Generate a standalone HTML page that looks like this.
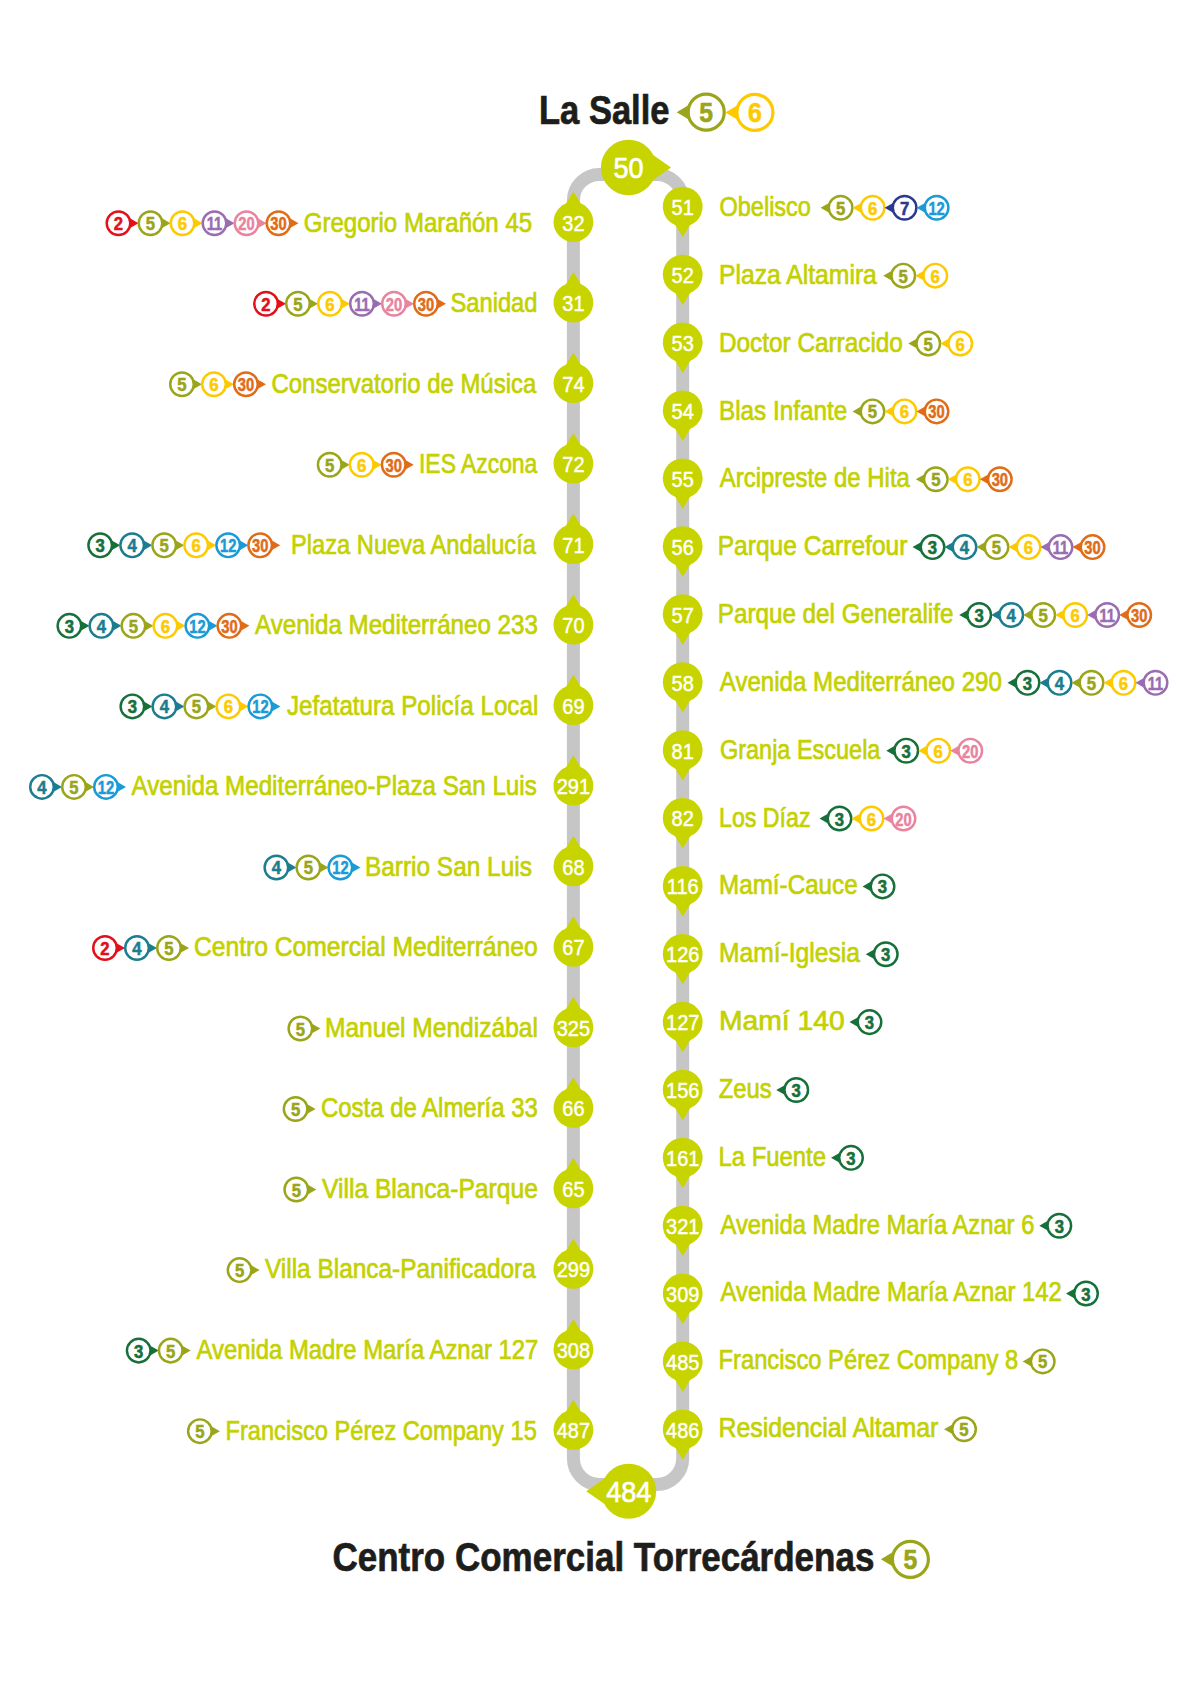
<!DOCTYPE html>
<html><head><meta charset="utf-8"><title>Línea 5</title>
<style>html,body{margin:0;padding:0;background:#fff;}svg{display:block;}
text{font-family:"Liberation Sans",sans-serif;}</style></head>
<body><svg width="1200" height="1700" viewBox="0 0 1200 1700">
<rect width="1200" height="1700" fill="#fff"/>
<path d="M573.40 200.40L573.40 1458.50A26.00 26.00 0 0 0 599.40 1484.50L656.70 1484.50A26.00 26.00 0 0 0 682.70 1458.50L682.70 200.40A26.00 26.00 0 0 0 656.70 174.40L599.40 174.40A26.00 26.00 0 0 0 573.40 200.40Z" fill="none" stroke="#c6c6c6" stroke-width="13.00"/>
<path d="M573.40 191.50L564.79 205.50L582.01 205.50Z" fill="#c8d400"/>
<circle cx="573.40" cy="222.00" r="19.90" fill="#c8d400"/>
<text transform="translate(573.40 230.50) scale(0.890 1)" text-anchor="middle" font-size="22.5" fill="#fff" stroke="#fff" stroke-width="0.45">32</text>
<path d="M138.50 223.20L126.50 216.36L126.50 230.04Z" fill="#e30f1b"/>
<circle cx="118.50" cy="223.20" r="11.78" fill="#fff" stroke="#e30f1b" stroke-width="2.45"/>
<text transform="translate(118.50 230.20) scale(0.880 1)" text-anchor="middle" font-size="19" font-weight="bold" fill="#e30f1b" stroke="#e30f1b" stroke-width="0.55">2</text>
<path d="M170.50 223.20L158.50 216.36L158.50 230.04Z" fill="#9aa519"/>
<circle cx="150.50" cy="223.20" r="11.78" fill="#fff" stroke="#9aa519" stroke-width="2.45"/>
<text transform="translate(150.50 230.20) scale(0.880 1)" text-anchor="middle" font-size="19" font-weight="bold" fill="#9aa519" stroke="#9aa519" stroke-width="0.55">5</text>
<path d="M202.50 223.20L190.50 216.36L190.50 230.04Z" fill="#fdca00"/>
<circle cx="182.50" cy="223.20" r="11.78" fill="#fff" stroke="#fdca00" stroke-width="2.45"/>
<text transform="translate(182.50 230.20) scale(0.880 1)" text-anchor="middle" font-size="19" font-weight="bold" fill="#fdca00" stroke="#fdca00" stroke-width="0.55">6</text>
<path d="M234.50 223.20L222.50 216.36L222.50 230.04Z" fill="#9a6cb1"/>
<circle cx="214.50" cy="223.20" r="11.78" fill="#fff" stroke="#9a6cb1" stroke-width="2.45"/>
<text transform="translate(214.50 230.20) scale(0.774 1)" text-anchor="middle" font-size="19" font-weight="bold" fill="#9a6cb1" stroke="#9a6cb1" stroke-width="0.55">11</text>
<path d="M266.50 223.20L254.50 216.36L254.50 230.04Z" fill="#e9839e"/>
<circle cx="246.50" cy="223.20" r="11.78" fill="#fff" stroke="#e9839e" stroke-width="2.45"/>
<text transform="translate(246.50 230.20) scale(0.774 1)" text-anchor="middle" font-size="19" font-weight="bold" fill="#e9839e" stroke="#e9839e" stroke-width="0.55">20</text>
<path d="M298.50 223.20L286.50 216.36L286.50 230.04Z" fill="#e06c18"/>
<circle cx="278.50" cy="223.20" r="11.78" fill="#fff" stroke="#e06c18" stroke-width="2.45"/>
<text transform="translate(278.50 230.20) scale(0.774 1)" text-anchor="middle" font-size="19" font-weight="bold" fill="#e06c18" stroke="#e06c18" stroke-width="0.55">30</text>
<text transform="translate(303.75 231.60) scale(0.8836 1)" font-size="27.2" fill="#c3d100" stroke="#c3d100" stroke-width="0.70">Gregorio Marañón 45</text>
<path d="M573.40 272.03L564.79 286.03L582.01 286.03Z" fill="#c8d400"/>
<circle cx="573.40" cy="302.53" r="19.90" fill="#c8d400"/>
<text transform="translate(573.40 311.03) scale(0.890 1)" text-anchor="middle" font-size="22.5" fill="#fff" stroke="#fff" stroke-width="0.45">31</text>
<path d="M286.00 303.73L274.00 296.89L274.00 310.57Z" fill="#e30f1b"/>
<circle cx="266.00" cy="303.73" r="11.78" fill="#fff" stroke="#e30f1b" stroke-width="2.45"/>
<text transform="translate(266.00 310.73) scale(0.880 1)" text-anchor="middle" font-size="19" font-weight="bold" fill="#e30f1b" stroke="#e30f1b" stroke-width="0.55">2</text>
<path d="M318.00 303.73L306.00 296.89L306.00 310.57Z" fill="#9aa519"/>
<circle cx="298.00" cy="303.73" r="11.78" fill="#fff" stroke="#9aa519" stroke-width="2.45"/>
<text transform="translate(298.00 310.73) scale(0.880 1)" text-anchor="middle" font-size="19" font-weight="bold" fill="#9aa519" stroke="#9aa519" stroke-width="0.55">5</text>
<path d="M350.00 303.73L338.00 296.89L338.00 310.57Z" fill="#fdca00"/>
<circle cx="330.00" cy="303.73" r="11.78" fill="#fff" stroke="#fdca00" stroke-width="2.45"/>
<text transform="translate(330.00 310.73) scale(0.880 1)" text-anchor="middle" font-size="19" font-weight="bold" fill="#fdca00" stroke="#fdca00" stroke-width="0.55">6</text>
<path d="M382.00 303.73L370.00 296.89L370.00 310.57Z" fill="#9a6cb1"/>
<circle cx="362.00" cy="303.73" r="11.78" fill="#fff" stroke="#9a6cb1" stroke-width="2.45"/>
<text transform="translate(362.00 310.73) scale(0.774 1)" text-anchor="middle" font-size="19" font-weight="bold" fill="#9a6cb1" stroke="#9a6cb1" stroke-width="0.55">11</text>
<path d="M414.00 303.73L402.00 296.89L402.00 310.57Z" fill="#e9839e"/>
<circle cx="394.00" cy="303.73" r="11.78" fill="#fff" stroke="#e9839e" stroke-width="2.45"/>
<text transform="translate(394.00 310.73) scale(0.774 1)" text-anchor="middle" font-size="19" font-weight="bold" fill="#e9839e" stroke="#e9839e" stroke-width="0.55">20</text>
<path d="M446.00 303.73L434.00 296.89L434.00 310.57Z" fill="#e06c18"/>
<circle cx="426.00" cy="303.73" r="11.78" fill="#fff" stroke="#e06c18" stroke-width="2.45"/>
<text transform="translate(426.00 310.73) scale(0.774 1)" text-anchor="middle" font-size="19" font-weight="bold" fill="#e06c18" stroke="#e06c18" stroke-width="0.55">30</text>
<text transform="translate(450.50 312.13) scale(0.8717 1)" font-size="27.2" fill="#c3d100" stroke="#c3d100" stroke-width="0.70">Sanidad</text>
<path d="M573.40 352.56L564.79 366.56L582.01 366.56Z" fill="#c8d400"/>
<circle cx="573.40" cy="383.06" r="19.90" fill="#c8d400"/>
<text transform="translate(573.40 391.56) scale(0.890 1)" text-anchor="middle" font-size="22.5" fill="#fff" stroke="#fff" stroke-width="0.45">74</text>
<path d="M202.00 384.26L190.00 377.42L190.00 391.10Z" fill="#9aa519"/>
<circle cx="182.00" cy="384.26" r="11.78" fill="#fff" stroke="#9aa519" stroke-width="2.45"/>
<text transform="translate(182.00 391.26) scale(0.880 1)" text-anchor="middle" font-size="19" font-weight="bold" fill="#9aa519" stroke="#9aa519" stroke-width="0.55">5</text>
<path d="M234.00 384.26L222.00 377.42L222.00 391.10Z" fill="#fdca00"/>
<circle cx="214.00" cy="384.26" r="11.78" fill="#fff" stroke="#fdca00" stroke-width="2.45"/>
<text transform="translate(214.00 391.26) scale(0.880 1)" text-anchor="middle" font-size="19" font-weight="bold" fill="#fdca00" stroke="#fdca00" stroke-width="0.55">6</text>
<path d="M266.00 384.26L254.00 377.42L254.00 391.10Z" fill="#e06c18"/>
<circle cx="246.00" cy="384.26" r="11.78" fill="#fff" stroke="#e06c18" stroke-width="2.45"/>
<text transform="translate(246.00 391.26) scale(0.774 1)" text-anchor="middle" font-size="19" font-weight="bold" fill="#e06c18" stroke="#e06c18" stroke-width="0.55">30</text>
<text transform="translate(271.50 392.66) scale(0.8807 1)" font-size="27.2" fill="#c3d100" stroke="#c3d100" stroke-width="0.70">Conservatorio de Música</text>
<path d="M573.40 433.09L564.79 447.09L582.01 447.09Z" fill="#c8d400"/>
<circle cx="573.40" cy="463.59" r="19.90" fill="#c8d400"/>
<text transform="translate(573.40 472.09) scale(0.890 1)" text-anchor="middle" font-size="22.5" fill="#fff" stroke="#fff" stroke-width="0.45">72</text>
<path d="M349.70 464.79L337.70 457.95L337.70 471.63Z" fill="#9aa519"/>
<circle cx="329.70" cy="464.79" r="11.78" fill="#fff" stroke="#9aa519" stroke-width="2.45"/>
<text transform="translate(329.70 471.79) scale(0.880 1)" text-anchor="middle" font-size="19" font-weight="bold" fill="#9aa519" stroke="#9aa519" stroke-width="0.55">5</text>
<path d="M381.70 464.79L369.70 457.95L369.70 471.63Z" fill="#fdca00"/>
<circle cx="361.70" cy="464.79" r="11.78" fill="#fff" stroke="#fdca00" stroke-width="2.45"/>
<text transform="translate(361.70 471.79) scale(0.880 1)" text-anchor="middle" font-size="19" font-weight="bold" fill="#fdca00" stroke="#fdca00" stroke-width="0.55">6</text>
<path d="M413.70 464.79L401.70 457.95L401.70 471.63Z" fill="#e06c18"/>
<circle cx="393.70" cy="464.79" r="11.78" fill="#fff" stroke="#e06c18" stroke-width="2.45"/>
<text transform="translate(393.70 471.79) scale(0.774 1)" text-anchor="middle" font-size="19" font-weight="bold" fill="#e06c18" stroke="#e06c18" stroke-width="0.55">30</text>
<text transform="translate(419.00 473.19) scale(0.8422 1)" font-size="27.2" fill="#c3d100" stroke="#c3d100" stroke-width="0.70">IES Azcona</text>
<path d="M573.40 513.62L564.79 527.62L582.01 527.62Z" fill="#c8d400"/>
<circle cx="573.40" cy="544.12" r="19.90" fill="#c8d400"/>
<text transform="translate(573.40 552.62) scale(0.890 1)" text-anchor="middle" font-size="22.5" fill="#fff" stroke="#fff" stroke-width="0.45">71</text>
<path d="M120.20 545.32L108.20 538.48L108.20 552.16Z" fill="#17703a"/>
<circle cx="100.20" cy="545.32" r="11.78" fill="#fff" stroke="#17703a" stroke-width="2.45"/>
<text transform="translate(100.20 552.32) scale(0.880 1)" text-anchor="middle" font-size="19" font-weight="bold" fill="#17703a" stroke="#17703a" stroke-width="0.55">3</text>
<path d="M152.20 545.32L140.20 538.48L140.20 552.16Z" fill="#1b7d8f"/>
<circle cx="132.20" cy="545.32" r="11.78" fill="#fff" stroke="#1b7d8f" stroke-width="2.45"/>
<text transform="translate(132.20 552.32) scale(0.880 1)" text-anchor="middle" font-size="19" font-weight="bold" fill="#1b7d8f" stroke="#1b7d8f" stroke-width="0.55">4</text>
<path d="M184.20 545.32L172.20 538.48L172.20 552.16Z" fill="#9aa519"/>
<circle cx="164.20" cy="545.32" r="11.78" fill="#fff" stroke="#9aa519" stroke-width="2.45"/>
<text transform="translate(164.20 552.32) scale(0.880 1)" text-anchor="middle" font-size="19" font-weight="bold" fill="#9aa519" stroke="#9aa519" stroke-width="0.55">5</text>
<path d="M216.20 545.32L204.20 538.48L204.20 552.16Z" fill="#fdca00"/>
<circle cx="196.20" cy="545.32" r="11.78" fill="#fff" stroke="#fdca00" stroke-width="2.45"/>
<text transform="translate(196.20 552.32) scale(0.880 1)" text-anchor="middle" font-size="19" font-weight="bold" fill="#fdca00" stroke="#fdca00" stroke-width="0.55">6</text>
<path d="M248.20 545.32L236.20 538.48L236.20 552.16Z" fill="#1a9ad7"/>
<circle cx="228.20" cy="545.32" r="11.78" fill="#fff" stroke="#1a9ad7" stroke-width="2.45"/>
<text transform="translate(228.20 552.32) scale(0.774 1)" text-anchor="middle" font-size="19" font-weight="bold" fill="#1a9ad7" stroke="#1a9ad7" stroke-width="0.55">12</text>
<path d="M280.20 545.32L268.20 538.48L268.20 552.16Z" fill="#e06c18"/>
<circle cx="260.20" cy="545.32" r="11.78" fill="#fff" stroke="#e06c18" stroke-width="2.45"/>
<text transform="translate(260.20 552.32) scale(0.774 1)" text-anchor="middle" font-size="19" font-weight="bold" fill="#e06c18" stroke="#e06c18" stroke-width="0.55">30</text>
<text transform="translate(291.00 553.72) scale(0.8710 1)" font-size="27.2" fill="#c3d100" stroke="#c3d100" stroke-width="0.70">Plaza Nueva Andalucía</text>
<path d="M573.40 594.15L564.79 608.15L582.01 608.15Z" fill="#c8d400"/>
<circle cx="573.40" cy="624.65" r="19.90" fill="#c8d400"/>
<text transform="translate(573.40 633.15) scale(0.890 1)" text-anchor="middle" font-size="22.5" fill="#fff" stroke="#fff" stroke-width="0.45">70</text>
<path d="M89.40 625.85L77.40 619.01L77.40 632.69Z" fill="#17703a"/>
<circle cx="69.40" cy="625.85" r="11.78" fill="#fff" stroke="#17703a" stroke-width="2.45"/>
<text transform="translate(69.40 632.85) scale(0.880 1)" text-anchor="middle" font-size="19" font-weight="bold" fill="#17703a" stroke="#17703a" stroke-width="0.55">3</text>
<path d="M121.40 625.85L109.40 619.01L109.40 632.69Z" fill="#1b7d8f"/>
<circle cx="101.40" cy="625.85" r="11.78" fill="#fff" stroke="#1b7d8f" stroke-width="2.45"/>
<text transform="translate(101.40 632.85) scale(0.880 1)" text-anchor="middle" font-size="19" font-weight="bold" fill="#1b7d8f" stroke="#1b7d8f" stroke-width="0.55">4</text>
<path d="M153.40 625.85L141.40 619.01L141.40 632.69Z" fill="#9aa519"/>
<circle cx="133.40" cy="625.85" r="11.78" fill="#fff" stroke="#9aa519" stroke-width="2.45"/>
<text transform="translate(133.40 632.85) scale(0.880 1)" text-anchor="middle" font-size="19" font-weight="bold" fill="#9aa519" stroke="#9aa519" stroke-width="0.55">5</text>
<path d="M185.40 625.85L173.40 619.01L173.40 632.69Z" fill="#fdca00"/>
<circle cx="165.40" cy="625.85" r="11.78" fill="#fff" stroke="#fdca00" stroke-width="2.45"/>
<text transform="translate(165.40 632.85) scale(0.880 1)" text-anchor="middle" font-size="19" font-weight="bold" fill="#fdca00" stroke="#fdca00" stroke-width="0.55">6</text>
<path d="M217.40 625.85L205.40 619.01L205.40 632.69Z" fill="#1a9ad7"/>
<circle cx="197.40" cy="625.85" r="11.78" fill="#fff" stroke="#1a9ad7" stroke-width="2.45"/>
<text transform="translate(197.40 632.85) scale(0.774 1)" text-anchor="middle" font-size="19" font-weight="bold" fill="#1a9ad7" stroke="#1a9ad7" stroke-width="0.55">12</text>
<path d="M249.40 625.85L237.40 619.01L237.40 632.69Z" fill="#e06c18"/>
<circle cx="229.40" cy="625.85" r="11.78" fill="#fff" stroke="#e06c18" stroke-width="2.45"/>
<text transform="translate(229.40 632.85) scale(0.774 1)" text-anchor="middle" font-size="19" font-weight="bold" fill="#e06c18" stroke="#e06c18" stroke-width="0.55">30</text>
<text transform="translate(255.00 634.25) scale(0.8883 1)" font-size="27.2" fill="#c3d100" stroke="#c3d100" stroke-width="0.70">Avenida Mediterráneo 233</text>
<path d="M573.40 674.68L564.79 688.68L582.01 688.68Z" fill="#c8d400"/>
<circle cx="573.40" cy="705.18" r="19.90" fill="#c8d400"/>
<text transform="translate(573.40 713.68) scale(0.890 1)" text-anchor="middle" font-size="22.5" fill="#fff" stroke="#fff" stroke-width="0.45">69</text>
<path d="M152.40 706.38L140.40 699.54L140.40 713.22Z" fill="#17703a"/>
<circle cx="132.40" cy="706.38" r="11.78" fill="#fff" stroke="#17703a" stroke-width="2.45"/>
<text transform="translate(132.40 713.38) scale(0.880 1)" text-anchor="middle" font-size="19" font-weight="bold" fill="#17703a" stroke="#17703a" stroke-width="0.55">3</text>
<path d="M184.40 706.38L172.40 699.54L172.40 713.22Z" fill="#1b7d8f"/>
<circle cx="164.40" cy="706.38" r="11.78" fill="#fff" stroke="#1b7d8f" stroke-width="2.45"/>
<text transform="translate(164.40 713.38) scale(0.880 1)" text-anchor="middle" font-size="19" font-weight="bold" fill="#1b7d8f" stroke="#1b7d8f" stroke-width="0.55">4</text>
<path d="M216.40 706.38L204.40 699.54L204.40 713.22Z" fill="#9aa519"/>
<circle cx="196.40" cy="706.38" r="11.78" fill="#fff" stroke="#9aa519" stroke-width="2.45"/>
<text transform="translate(196.40 713.38) scale(0.880 1)" text-anchor="middle" font-size="19" font-weight="bold" fill="#9aa519" stroke="#9aa519" stroke-width="0.55">5</text>
<path d="M248.40 706.38L236.40 699.54L236.40 713.22Z" fill="#fdca00"/>
<circle cx="228.40" cy="706.38" r="11.78" fill="#fff" stroke="#fdca00" stroke-width="2.45"/>
<text transform="translate(228.40 713.38) scale(0.880 1)" text-anchor="middle" font-size="19" font-weight="bold" fill="#fdca00" stroke="#fdca00" stroke-width="0.55">6</text>
<path d="M280.40 706.38L268.40 699.54L268.40 713.22Z" fill="#1a9ad7"/>
<circle cx="260.40" cy="706.38" r="11.78" fill="#fff" stroke="#1a9ad7" stroke-width="2.45"/>
<text transform="translate(260.40 713.38) scale(0.774 1)" text-anchor="middle" font-size="19" font-weight="bold" fill="#1a9ad7" stroke="#1a9ad7" stroke-width="0.55">12</text>
<text transform="translate(287.00 714.78) scale(0.8893 1)" font-size="27.2" fill="#c3d100" stroke="#c3d100" stroke-width="0.70">Jefatatura Policía Local</text>
<path d="M573.40 755.21L564.79 769.21L582.01 769.21Z" fill="#c8d400"/>
<circle cx="573.40" cy="785.71" r="19.90" fill="#c8d400"/>
<text transform="translate(573.40 794.21) scale(0.890 1)" text-anchor="middle" font-size="22.5" fill="#fff" stroke="#fff" stroke-width="0.45">291</text>
<path d="M62.00 786.91L50.00 780.07L50.00 793.75Z" fill="#1b7d8f"/>
<circle cx="42.00" cy="786.91" r="11.78" fill="#fff" stroke="#1b7d8f" stroke-width="2.45"/>
<text transform="translate(42.00 793.91) scale(0.880 1)" text-anchor="middle" font-size="19" font-weight="bold" fill="#1b7d8f" stroke="#1b7d8f" stroke-width="0.55">4</text>
<path d="M94.00 786.91L82.00 780.07L82.00 793.75Z" fill="#9aa519"/>
<circle cx="74.00" cy="786.91" r="11.78" fill="#fff" stroke="#9aa519" stroke-width="2.45"/>
<text transform="translate(74.00 793.91) scale(0.880 1)" text-anchor="middle" font-size="19" font-weight="bold" fill="#9aa519" stroke="#9aa519" stroke-width="0.55">5</text>
<path d="M126.00 786.91L114.00 780.07L114.00 793.75Z" fill="#1a9ad7"/>
<circle cx="106.00" cy="786.91" r="11.78" fill="#fff" stroke="#1a9ad7" stroke-width="2.45"/>
<text transform="translate(106.00 793.91) scale(0.774 1)" text-anchor="middle" font-size="19" font-weight="bold" fill="#1a9ad7" stroke="#1a9ad7" stroke-width="0.55">12</text>
<text transform="translate(131.50 795.31) scale(0.8889 1)" font-size="27.2" fill="#c3d100" stroke="#c3d100" stroke-width="0.70">Avenida Mediterráneo-Plaza San Luis</text>
<path d="M573.40 835.74L564.79 849.74L582.01 849.74Z" fill="#c8d400"/>
<circle cx="573.40" cy="866.24" r="19.90" fill="#c8d400"/>
<text transform="translate(573.40 874.74) scale(0.890 1)" text-anchor="middle" font-size="22.5" fill="#fff" stroke="#fff" stroke-width="0.45">68</text>
<path d="M296.40 867.44L284.40 860.60L284.40 874.28Z" fill="#1b7d8f"/>
<circle cx="276.40" cy="867.44" r="11.78" fill="#fff" stroke="#1b7d8f" stroke-width="2.45"/>
<text transform="translate(276.40 874.44) scale(0.880 1)" text-anchor="middle" font-size="19" font-weight="bold" fill="#1b7d8f" stroke="#1b7d8f" stroke-width="0.55">4</text>
<path d="M328.40 867.44L316.40 860.60L316.40 874.28Z" fill="#9aa519"/>
<circle cx="308.40" cy="867.44" r="11.78" fill="#fff" stroke="#9aa519" stroke-width="2.45"/>
<text transform="translate(308.40 874.44) scale(0.880 1)" text-anchor="middle" font-size="19" font-weight="bold" fill="#9aa519" stroke="#9aa519" stroke-width="0.55">5</text>
<path d="M360.40 867.44L348.40 860.60L348.40 874.28Z" fill="#1a9ad7"/>
<circle cx="340.40" cy="867.44" r="11.78" fill="#fff" stroke="#1a9ad7" stroke-width="2.45"/>
<text transform="translate(340.40 874.44) scale(0.774 1)" text-anchor="middle" font-size="19" font-weight="bold" fill="#1a9ad7" stroke="#1a9ad7" stroke-width="0.55">12</text>
<text transform="translate(365.00 875.84) scale(0.8978 1)" font-size="27.2" fill="#c3d100" stroke="#c3d100" stroke-width="0.70">Barrio San Luis</text>
<path d="M573.40 916.27L564.79 930.27L582.01 930.27Z" fill="#c8d400"/>
<circle cx="573.40" cy="946.77" r="19.90" fill="#c8d400"/>
<text transform="translate(573.40 955.27) scale(0.890 1)" text-anchor="middle" font-size="22.5" fill="#fff" stroke="#fff" stroke-width="0.45">67</text>
<path d="M125.00 947.97L113.00 941.13L113.00 954.81Z" fill="#e30f1b"/>
<circle cx="105.00" cy="947.97" r="11.78" fill="#fff" stroke="#e30f1b" stroke-width="2.45"/>
<text transform="translate(105.00 954.97) scale(0.880 1)" text-anchor="middle" font-size="19" font-weight="bold" fill="#e30f1b" stroke="#e30f1b" stroke-width="0.55">2</text>
<path d="M157.00 947.97L145.00 941.13L145.00 954.81Z" fill="#1b7d8f"/>
<circle cx="137.00" cy="947.97" r="11.78" fill="#fff" stroke="#1b7d8f" stroke-width="2.45"/>
<text transform="translate(137.00 954.97) scale(0.880 1)" text-anchor="middle" font-size="19" font-weight="bold" fill="#1b7d8f" stroke="#1b7d8f" stroke-width="0.55">4</text>
<path d="M189.00 947.97L177.00 941.13L177.00 954.81Z" fill="#9aa519"/>
<circle cx="169.00" cy="947.97" r="11.78" fill="#fff" stroke="#9aa519" stroke-width="2.45"/>
<text transform="translate(169.00 954.97) scale(0.880 1)" text-anchor="middle" font-size="19" font-weight="bold" fill="#9aa519" stroke="#9aa519" stroke-width="0.55">5</text>
<text transform="translate(194.00 956.37) scale(0.9065 1)" font-size="27.2" fill="#c3d100" stroke="#c3d100" stroke-width="0.70">Centro Comercial Mediterráneo</text>
<path d="M573.40 996.80L564.79 1010.80L582.01 1010.80Z" fill="#c8d400"/>
<circle cx="573.40" cy="1027.30" r="19.90" fill="#c8d400"/>
<text transform="translate(573.40 1035.80) scale(0.890 1)" text-anchor="middle" font-size="22.5" fill="#fff" stroke="#fff" stroke-width="0.45">325</text>
<path d="M320.40 1028.50L308.40 1021.66L308.40 1035.34Z" fill="#9aa519"/>
<circle cx="300.40" cy="1028.50" r="11.78" fill="#fff" stroke="#9aa519" stroke-width="2.45"/>
<text transform="translate(300.40 1035.50) scale(0.880 1)" text-anchor="middle" font-size="19" font-weight="bold" fill="#9aa519" stroke="#9aa519" stroke-width="0.55">5</text>
<text transform="translate(325.00 1036.90) scale(0.9029 1)" font-size="27.2" fill="#c3d100" stroke="#c3d100" stroke-width="0.70">Manuel Mendizábal</text>
<path d="M573.40 1077.33L564.79 1091.33L582.01 1091.33Z" fill="#c8d400"/>
<circle cx="573.40" cy="1107.83" r="19.90" fill="#c8d400"/>
<text transform="translate(573.40 1116.33) scale(0.890 1)" text-anchor="middle" font-size="22.5" fill="#fff" stroke="#fff" stroke-width="0.45">66</text>
<path d="M315.60 1109.03L303.60 1102.19L303.60 1115.87Z" fill="#9aa519"/>
<circle cx="295.60" cy="1109.03" r="11.78" fill="#fff" stroke="#9aa519" stroke-width="2.45"/>
<text transform="translate(295.60 1116.03) scale(0.880 1)" text-anchor="middle" font-size="19" font-weight="bold" fill="#9aa519" stroke="#9aa519" stroke-width="0.55">5</text>
<text transform="translate(321.00 1117.43) scale(0.8803 1)" font-size="27.2" fill="#c3d100" stroke="#c3d100" stroke-width="0.70">Costa de Almería 33</text>
<path d="M573.40 1157.86L564.79 1171.86L582.01 1171.86Z" fill="#c8d400"/>
<circle cx="573.40" cy="1188.36" r="19.90" fill="#c8d400"/>
<text transform="translate(573.40 1196.86) scale(0.890 1)" text-anchor="middle" font-size="22.5" fill="#fff" stroke="#fff" stroke-width="0.45">65</text>
<path d="M316.30 1189.56L304.30 1182.72L304.30 1196.40Z" fill="#9aa519"/>
<circle cx="296.30" cy="1189.56" r="11.78" fill="#fff" stroke="#9aa519" stroke-width="2.45"/>
<text transform="translate(296.30 1196.56) scale(0.880 1)" text-anchor="middle" font-size="19" font-weight="bold" fill="#9aa519" stroke="#9aa519" stroke-width="0.55">5</text>
<text transform="translate(322.00 1197.96) scale(0.9060 1)" font-size="27.2" fill="#c3d100" stroke="#c3d100" stroke-width="0.70">Villa Blanca-Parque</text>
<path d="M573.40 1238.39L564.79 1252.39L582.01 1252.39Z" fill="#c8d400"/>
<circle cx="573.40" cy="1268.89" r="19.90" fill="#c8d400"/>
<text transform="translate(573.40 1277.39) scale(0.890 1)" text-anchor="middle" font-size="22.5" fill="#fff" stroke="#fff" stroke-width="0.45">299</text>
<path d="M259.60 1270.09L247.60 1263.25L247.60 1276.93Z" fill="#9aa519"/>
<circle cx="239.60" cy="1270.09" r="11.78" fill="#fff" stroke="#9aa519" stroke-width="2.45"/>
<text transform="translate(239.60 1277.09) scale(0.880 1)" text-anchor="middle" font-size="19" font-weight="bold" fill="#9aa519" stroke="#9aa519" stroke-width="0.55">5</text>
<text transform="translate(265.00 1278.49) scale(0.8974 1)" font-size="27.2" fill="#c3d100" stroke="#c3d100" stroke-width="0.70">Villa Blanca-Panificadora</text>
<path d="M573.40 1318.92L564.79 1332.92L582.01 1332.92Z" fill="#c8d400"/>
<circle cx="573.40" cy="1349.42" r="19.90" fill="#c8d400"/>
<text transform="translate(573.40 1357.92) scale(0.890 1)" text-anchor="middle" font-size="22.5" fill="#fff" stroke="#fff" stroke-width="0.45">308</text>
<path d="M158.70 1350.62L146.70 1343.78L146.70 1357.46Z" fill="#17703a"/>
<circle cx="138.70" cy="1350.62" r="11.78" fill="#fff" stroke="#17703a" stroke-width="2.45"/>
<text transform="translate(138.70 1357.62) scale(0.880 1)" text-anchor="middle" font-size="19" font-weight="bold" fill="#17703a" stroke="#17703a" stroke-width="0.55">3</text>
<path d="M190.70 1350.62L178.70 1343.78L178.70 1357.46Z" fill="#9aa519"/>
<circle cx="170.70" cy="1350.62" r="11.78" fill="#fff" stroke="#9aa519" stroke-width="2.45"/>
<text transform="translate(170.70 1357.62) scale(0.880 1)" text-anchor="middle" font-size="19" font-weight="bold" fill="#9aa519" stroke="#9aa519" stroke-width="0.55">5</text>
<text transform="translate(196.50 1359.02) scale(0.8778 1)" font-size="27.2" fill="#c3d100" stroke="#c3d100" stroke-width="0.70">Avenida Madre María Aznar 127</text>
<path d="M573.40 1399.45L564.79 1413.45L582.01 1413.45Z" fill="#c8d400"/>
<circle cx="573.40" cy="1429.95" r="19.90" fill="#c8d400"/>
<text transform="translate(573.40 1438.45) scale(0.890 1)" text-anchor="middle" font-size="22.5" fill="#fff" stroke="#fff" stroke-width="0.45">487</text>
<path d="M219.90 1431.15L207.90 1424.31L207.90 1437.99Z" fill="#9aa519"/>
<circle cx="199.90" cy="1431.15" r="11.78" fill="#fff" stroke="#9aa519" stroke-width="2.45"/>
<text transform="translate(199.90 1438.15) scale(0.880 1)" text-anchor="middle" font-size="19" font-weight="bold" fill="#9aa519" stroke="#9aa519" stroke-width="0.55">5</text>
<text transform="translate(225.50 1439.55) scale(0.8694 1)" font-size="27.2" fill="#c3d100" stroke="#c3d100" stroke-width="0.70">Francisco Pérez Company 15</text>
<path d="M682.70 237.10L674.09 223.10L691.31 223.10Z" fill="#c8d400"/>
<circle cx="682.70" cy="206.60" r="19.90" fill="#c8d400"/>
<text transform="translate(682.70 215.10) scale(0.890 1)" text-anchor="middle" font-size="22.5" fill="#fff" stroke="#fff" stroke-width="0.45">51</text>
<path d="M820.60 207.80L832.60 200.96L832.60 214.64Z" fill="#9aa519"/>
<circle cx="840.60" cy="207.80" r="11.78" fill="#fff" stroke="#9aa519" stroke-width="2.45"/>
<text transform="translate(840.60 214.80) scale(0.880 1)" text-anchor="middle" font-size="19" font-weight="bold" fill="#9aa519" stroke="#9aa519" stroke-width="0.55">5</text>
<path d="M852.60 207.80L864.60 200.96L864.60 214.64Z" fill="#fdca00"/>
<circle cx="872.60" cy="207.80" r="11.78" fill="#fff" stroke="#fdca00" stroke-width="2.45"/>
<text transform="translate(872.60 214.80) scale(0.880 1)" text-anchor="middle" font-size="19" font-weight="bold" fill="#fdca00" stroke="#fdca00" stroke-width="0.55">6</text>
<path d="M884.60 207.80L896.60 200.96L896.60 214.64Z" fill="#2b3a8e"/>
<circle cx="904.60" cy="207.80" r="11.78" fill="#fff" stroke="#2b3a8e" stroke-width="2.45"/>
<text transform="translate(904.60 214.80) scale(0.880 1)" text-anchor="middle" font-size="19" font-weight="bold" fill="#2b3a8e" stroke="#2b3a8e" stroke-width="0.55">7</text>
<path d="M916.60 207.80L928.60 200.96L928.60 214.64Z" fill="#1a9ad7"/>
<circle cx="936.60" cy="207.80" r="11.78" fill="#fff" stroke="#1a9ad7" stroke-width="2.45"/>
<text transform="translate(936.60 214.80) scale(0.774 1)" text-anchor="middle" font-size="19" font-weight="bold" fill="#1a9ad7" stroke="#1a9ad7" stroke-width="0.55">12</text>
<text transform="translate(719.50 216.10) scale(0.8648 1)" font-size="27.2" fill="#c3d100" stroke="#c3d100" stroke-width="0.70">Obelisco</text>
<path d="M682.70 305.03L674.09 291.03L691.31 291.03Z" fill="#c8d400"/>
<circle cx="682.70" cy="274.53" r="19.90" fill="#c8d400"/>
<text transform="translate(682.70 283.03) scale(0.890 1)" text-anchor="middle" font-size="22.5" fill="#fff" stroke="#fff" stroke-width="0.45">52</text>
<path d="M883.25 275.66L895.25 268.82L895.25 282.50Z" fill="#9aa519"/>
<circle cx="903.25" cy="275.66" r="11.78" fill="#fff" stroke="#9aa519" stroke-width="2.45"/>
<text transform="translate(903.25 282.66) scale(0.880 1)" text-anchor="middle" font-size="19" font-weight="bold" fill="#9aa519" stroke="#9aa519" stroke-width="0.55">5</text>
<path d="M915.25 275.66L927.25 268.82L927.25 282.50Z" fill="#fdca00"/>
<circle cx="935.25" cy="275.66" r="11.78" fill="#fff" stroke="#fdca00" stroke-width="2.45"/>
<text transform="translate(935.25 282.66) scale(0.880 1)" text-anchor="middle" font-size="19" font-weight="bold" fill="#fdca00" stroke="#fdca00" stroke-width="0.55">6</text>
<text transform="translate(719.00 283.93) scale(0.9086 1)" font-size="27.2" fill="#c3d100" stroke="#c3d100" stroke-width="0.70">Plaza Altamira</text>
<path d="M682.70 372.96L674.09 358.96L691.31 358.96Z" fill="#c8d400"/>
<circle cx="682.70" cy="342.46" r="19.90" fill="#c8d400"/>
<text transform="translate(682.70 350.96) scale(0.890 1)" text-anchor="middle" font-size="22.5" fill="#fff" stroke="#fff" stroke-width="0.45">53</text>
<path d="M908.25 343.52L920.25 336.68L920.25 350.36Z" fill="#9aa519"/>
<circle cx="928.25" cy="343.52" r="11.78" fill="#fff" stroke="#9aa519" stroke-width="2.45"/>
<text transform="translate(928.25 350.52) scale(0.880 1)" text-anchor="middle" font-size="19" font-weight="bold" fill="#9aa519" stroke="#9aa519" stroke-width="0.55">5</text>
<path d="M940.25 343.52L952.25 336.68L952.25 350.36Z" fill="#fdca00"/>
<circle cx="960.25" cy="343.52" r="11.78" fill="#fff" stroke="#fdca00" stroke-width="2.45"/>
<text transform="translate(960.25 350.52) scale(0.880 1)" text-anchor="middle" font-size="19" font-weight="bold" fill="#fdca00" stroke="#fdca00" stroke-width="0.55">6</text>
<text transform="translate(719.00 351.76) scale(0.8949 1)" font-size="27.2" fill="#c3d100" stroke="#c3d100" stroke-width="0.70">Doctor Carracido</text>
<path d="M682.70 440.89L674.09 426.89L691.31 426.89Z" fill="#c8d400"/>
<circle cx="682.70" cy="410.39" r="19.90" fill="#c8d400"/>
<text transform="translate(682.70 418.89) scale(0.890 1)" text-anchor="middle" font-size="22.5" fill="#fff" stroke="#fff" stroke-width="0.45">54</text>
<path d="M852.50 411.38L864.50 404.54L864.50 418.22Z" fill="#9aa519"/>
<circle cx="872.50" cy="411.38" r="11.78" fill="#fff" stroke="#9aa519" stroke-width="2.45"/>
<text transform="translate(872.50 418.38) scale(0.880 1)" text-anchor="middle" font-size="19" font-weight="bold" fill="#9aa519" stroke="#9aa519" stroke-width="0.55">5</text>
<path d="M884.50 411.38L896.50 404.54L896.50 418.22Z" fill="#fdca00"/>
<circle cx="904.50" cy="411.38" r="11.78" fill="#fff" stroke="#fdca00" stroke-width="2.45"/>
<text transform="translate(904.50 418.38) scale(0.880 1)" text-anchor="middle" font-size="19" font-weight="bold" fill="#fdca00" stroke="#fdca00" stroke-width="0.55">6</text>
<path d="M916.50 411.38L928.50 404.54L928.50 418.22Z" fill="#e06c18"/>
<circle cx="936.50" cy="411.38" r="11.78" fill="#fff" stroke="#e06c18" stroke-width="2.45"/>
<text transform="translate(936.50 418.38) scale(0.774 1)" text-anchor="middle" font-size="19" font-weight="bold" fill="#e06c18" stroke="#e06c18" stroke-width="0.55">30</text>
<text transform="translate(719.00 419.59) scale(0.8925 1)" font-size="27.2" fill="#c3d100" stroke="#c3d100" stroke-width="0.70">Blas Infante</text>
<path d="M682.70 508.82L674.09 494.82L691.31 494.82Z" fill="#c8d400"/>
<circle cx="682.70" cy="478.32" r="19.90" fill="#c8d400"/>
<text transform="translate(682.70 486.82) scale(0.890 1)" text-anchor="middle" font-size="22.5" fill="#fff" stroke="#fff" stroke-width="0.45">55</text>
<path d="M915.80 479.24L927.80 472.40L927.80 486.08Z" fill="#9aa519"/>
<circle cx="935.80" cy="479.24" r="11.78" fill="#fff" stroke="#9aa519" stroke-width="2.45"/>
<text transform="translate(935.80 486.24) scale(0.880 1)" text-anchor="middle" font-size="19" font-weight="bold" fill="#9aa519" stroke="#9aa519" stroke-width="0.55">5</text>
<path d="M947.80 479.24L959.80 472.40L959.80 486.08Z" fill="#fdca00"/>
<circle cx="967.80" cy="479.24" r="11.78" fill="#fff" stroke="#fdca00" stroke-width="2.45"/>
<text transform="translate(967.80 486.24) scale(0.880 1)" text-anchor="middle" font-size="19" font-weight="bold" fill="#fdca00" stroke="#fdca00" stroke-width="0.55">6</text>
<path d="M979.80 479.24L991.80 472.40L991.80 486.08Z" fill="#e06c18"/>
<circle cx="999.80" cy="479.24" r="11.78" fill="#fff" stroke="#e06c18" stroke-width="2.45"/>
<text transform="translate(999.80 486.24) scale(0.774 1)" text-anchor="middle" font-size="19" font-weight="bold" fill="#e06c18" stroke="#e06c18" stroke-width="0.55">30</text>
<text transform="translate(719.75 487.42) scale(0.8796 1)" font-size="27.2" fill="#c3d100" stroke="#c3d100" stroke-width="0.70">Arcipreste de Hita</text>
<path d="M682.70 576.75L674.09 562.75L691.31 562.75Z" fill="#c8d400"/>
<circle cx="682.70" cy="546.25" r="19.90" fill="#c8d400"/>
<text transform="translate(682.70 554.75) scale(0.890 1)" text-anchor="middle" font-size="22.5" fill="#fff" stroke="#fff" stroke-width="0.45">56</text>
<path d="M912.50 547.10L924.50 540.26L924.50 553.94Z" fill="#17703a"/>
<circle cx="932.50" cy="547.10" r="11.78" fill="#fff" stroke="#17703a" stroke-width="2.45"/>
<text transform="translate(932.50 554.10) scale(0.880 1)" text-anchor="middle" font-size="19" font-weight="bold" fill="#17703a" stroke="#17703a" stroke-width="0.55">3</text>
<path d="M944.50 547.10L956.50 540.26L956.50 553.94Z" fill="#1b7d8f"/>
<circle cx="964.50" cy="547.10" r="11.78" fill="#fff" stroke="#1b7d8f" stroke-width="2.45"/>
<text transform="translate(964.50 554.10) scale(0.880 1)" text-anchor="middle" font-size="19" font-weight="bold" fill="#1b7d8f" stroke="#1b7d8f" stroke-width="0.55">4</text>
<path d="M976.50 547.10L988.50 540.26L988.50 553.94Z" fill="#9aa519"/>
<circle cx="996.50" cy="547.10" r="11.78" fill="#fff" stroke="#9aa519" stroke-width="2.45"/>
<text transform="translate(996.50 554.10) scale(0.880 1)" text-anchor="middle" font-size="19" font-weight="bold" fill="#9aa519" stroke="#9aa519" stroke-width="0.55">5</text>
<path d="M1008.50 547.10L1020.50 540.26L1020.50 553.94Z" fill="#fdca00"/>
<circle cx="1028.50" cy="547.10" r="11.78" fill="#fff" stroke="#fdca00" stroke-width="2.45"/>
<text transform="translate(1028.50 554.10) scale(0.880 1)" text-anchor="middle" font-size="19" font-weight="bold" fill="#fdca00" stroke="#fdca00" stroke-width="0.55">6</text>
<path d="M1040.50 547.10L1052.50 540.26L1052.50 553.94Z" fill="#9a6cb1"/>
<circle cx="1060.50" cy="547.10" r="11.78" fill="#fff" stroke="#9a6cb1" stroke-width="2.45"/>
<text transform="translate(1060.50 554.10) scale(0.774 1)" text-anchor="middle" font-size="19" font-weight="bold" fill="#9a6cb1" stroke="#9a6cb1" stroke-width="0.55">11</text>
<path d="M1072.50 547.10L1084.50 540.26L1084.50 553.94Z" fill="#e06c18"/>
<circle cx="1092.50" cy="547.10" r="11.78" fill="#fff" stroke="#e06c18" stroke-width="2.45"/>
<text transform="translate(1092.50 554.10) scale(0.774 1)" text-anchor="middle" font-size="19" font-weight="bold" fill="#e06c18" stroke="#e06c18" stroke-width="0.55">30</text>
<text transform="translate(717.75 555.25) scale(0.9027 1)" font-size="27.2" fill="#c3d100" stroke="#c3d100" stroke-width="0.70">Parque Carrefour</text>
<path d="M682.70 644.68L674.09 630.68L691.31 630.68Z" fill="#c8d400"/>
<circle cx="682.70" cy="614.18" r="19.90" fill="#c8d400"/>
<text transform="translate(682.70 622.68) scale(0.890 1)" text-anchor="middle" font-size="22.5" fill="#fff" stroke="#fff" stroke-width="0.45">57</text>
<path d="M959.20 614.96L971.20 608.12L971.20 621.80Z" fill="#17703a"/>
<circle cx="979.20" cy="614.96" r="11.78" fill="#fff" stroke="#17703a" stroke-width="2.45"/>
<text transform="translate(979.20 621.96) scale(0.880 1)" text-anchor="middle" font-size="19" font-weight="bold" fill="#17703a" stroke="#17703a" stroke-width="0.55">3</text>
<path d="M991.20 614.96L1003.20 608.12L1003.20 621.80Z" fill="#1b7d8f"/>
<circle cx="1011.20" cy="614.96" r="11.78" fill="#fff" stroke="#1b7d8f" stroke-width="2.45"/>
<text transform="translate(1011.20 621.96) scale(0.880 1)" text-anchor="middle" font-size="19" font-weight="bold" fill="#1b7d8f" stroke="#1b7d8f" stroke-width="0.55">4</text>
<path d="M1023.20 614.96L1035.20 608.12L1035.20 621.80Z" fill="#9aa519"/>
<circle cx="1043.20" cy="614.96" r="11.78" fill="#fff" stroke="#9aa519" stroke-width="2.45"/>
<text transform="translate(1043.20 621.96) scale(0.880 1)" text-anchor="middle" font-size="19" font-weight="bold" fill="#9aa519" stroke="#9aa519" stroke-width="0.55">5</text>
<path d="M1055.20 614.96L1067.20 608.12L1067.20 621.80Z" fill="#fdca00"/>
<circle cx="1075.20" cy="614.96" r="11.78" fill="#fff" stroke="#fdca00" stroke-width="2.45"/>
<text transform="translate(1075.20 621.96) scale(0.880 1)" text-anchor="middle" font-size="19" font-weight="bold" fill="#fdca00" stroke="#fdca00" stroke-width="0.55">6</text>
<path d="M1087.20 614.96L1099.20 608.12L1099.20 621.80Z" fill="#9a6cb1"/>
<circle cx="1107.20" cy="614.96" r="11.78" fill="#fff" stroke="#9a6cb1" stroke-width="2.45"/>
<text transform="translate(1107.20 621.96) scale(0.774 1)" text-anchor="middle" font-size="19" font-weight="bold" fill="#9a6cb1" stroke="#9a6cb1" stroke-width="0.55">11</text>
<path d="M1119.20 614.96L1131.20 608.12L1131.20 621.80Z" fill="#e06c18"/>
<circle cx="1139.20" cy="614.96" r="11.78" fill="#fff" stroke="#e06c18" stroke-width="2.45"/>
<text transform="translate(1139.20 621.96) scale(0.774 1)" text-anchor="middle" font-size="19" font-weight="bold" fill="#e06c18" stroke="#e06c18" stroke-width="0.55">30</text>
<text transform="translate(717.75 623.08) scale(0.8910 1)" font-size="27.2" fill="#c3d100" stroke="#c3d100" stroke-width="0.70">Parque del Generalife</text>
<path d="M682.70 712.61L674.09 698.61L691.31 698.61Z" fill="#c8d400"/>
<circle cx="682.70" cy="682.11" r="19.90" fill="#c8d400"/>
<text transform="translate(682.70 690.61) scale(0.890 1)" text-anchor="middle" font-size="22.5" fill="#fff" stroke="#fff" stroke-width="0.45">58</text>
<path d="M1007.50 682.82L1019.50 675.98L1019.50 689.66Z" fill="#17703a"/>
<circle cx="1027.50" cy="682.82" r="11.78" fill="#fff" stroke="#17703a" stroke-width="2.45"/>
<text transform="translate(1027.50 689.82) scale(0.880 1)" text-anchor="middle" font-size="19" font-weight="bold" fill="#17703a" stroke="#17703a" stroke-width="0.55">3</text>
<path d="M1039.50 682.82L1051.50 675.98L1051.50 689.66Z" fill="#1b7d8f"/>
<circle cx="1059.50" cy="682.82" r="11.78" fill="#fff" stroke="#1b7d8f" stroke-width="2.45"/>
<text transform="translate(1059.50 689.82) scale(0.880 1)" text-anchor="middle" font-size="19" font-weight="bold" fill="#1b7d8f" stroke="#1b7d8f" stroke-width="0.55">4</text>
<path d="M1071.50 682.82L1083.50 675.98L1083.50 689.66Z" fill="#9aa519"/>
<circle cx="1091.50" cy="682.82" r="11.78" fill="#fff" stroke="#9aa519" stroke-width="2.45"/>
<text transform="translate(1091.50 689.82) scale(0.880 1)" text-anchor="middle" font-size="19" font-weight="bold" fill="#9aa519" stroke="#9aa519" stroke-width="0.55">5</text>
<path d="M1103.50 682.82L1115.50 675.98L1115.50 689.66Z" fill="#fdca00"/>
<circle cx="1123.50" cy="682.82" r="11.78" fill="#fff" stroke="#fdca00" stroke-width="2.45"/>
<text transform="translate(1123.50 689.82) scale(0.880 1)" text-anchor="middle" font-size="19" font-weight="bold" fill="#fdca00" stroke="#fdca00" stroke-width="0.55">6</text>
<path d="M1135.50 682.82L1147.50 675.98L1147.50 689.66Z" fill="#9a6cb1"/>
<circle cx="1155.50" cy="682.82" r="11.78" fill="#fff" stroke="#9a6cb1" stroke-width="2.45"/>
<text transform="translate(1155.50 689.82) scale(0.774 1)" text-anchor="middle" font-size="19" font-weight="bold" fill="#9a6cb1" stroke="#9a6cb1" stroke-width="0.55">11</text>
<text transform="translate(719.75 690.91) scale(0.8859 1)" font-size="27.2" fill="#c3d100" stroke="#c3d100" stroke-width="0.70">Avenida Mediterráneo 290</text>
<path d="M682.70 780.54L674.09 766.54L691.31 766.54Z" fill="#c8d400"/>
<circle cx="682.70" cy="750.04" r="19.90" fill="#c8d400"/>
<text transform="translate(682.70 758.54) scale(0.890 1)" text-anchor="middle" font-size="22.5" fill="#fff" stroke="#fff" stroke-width="0.45">81</text>
<path d="M886.25 750.68L898.25 743.84L898.25 757.52Z" fill="#17703a"/>
<circle cx="906.25" cy="750.68" r="11.78" fill="#fff" stroke="#17703a" stroke-width="2.45"/>
<text transform="translate(906.25 757.68) scale(0.880 1)" text-anchor="middle" font-size="19" font-weight="bold" fill="#17703a" stroke="#17703a" stroke-width="0.55">3</text>
<path d="M918.25 750.68L930.25 743.84L930.25 757.52Z" fill="#fdca00"/>
<circle cx="938.25" cy="750.68" r="11.78" fill="#fff" stroke="#fdca00" stroke-width="2.45"/>
<text transform="translate(938.25 757.68) scale(0.880 1)" text-anchor="middle" font-size="19" font-weight="bold" fill="#fdca00" stroke="#fdca00" stroke-width="0.55">6</text>
<path d="M950.25 750.68L962.25 743.84L962.25 757.52Z" fill="#e9839e"/>
<circle cx="970.25" cy="750.68" r="11.78" fill="#fff" stroke="#e9839e" stroke-width="2.45"/>
<text transform="translate(970.25 757.68) scale(0.774 1)" text-anchor="middle" font-size="19" font-weight="bold" fill="#e9839e" stroke="#e9839e" stroke-width="0.55">20</text>
<text transform="translate(720.00 758.74) scale(0.8629 1)" font-size="27.2" fill="#c3d100" stroke="#c3d100" stroke-width="0.70">Granja Escuela</text>
<path d="M682.70 848.47L674.09 834.47L691.31 834.47Z" fill="#c8d400"/>
<circle cx="682.70" cy="817.97" r="19.90" fill="#c8d400"/>
<text transform="translate(682.70 826.47) scale(0.890 1)" text-anchor="middle" font-size="22.5" fill="#fff" stroke="#fff" stroke-width="0.45">82</text>
<path d="M819.50 818.54L831.50 811.70L831.50 825.38Z" fill="#17703a"/>
<circle cx="839.50" cy="818.54" r="11.78" fill="#fff" stroke="#17703a" stroke-width="2.45"/>
<text transform="translate(839.50 825.54) scale(0.880 1)" text-anchor="middle" font-size="19" font-weight="bold" fill="#17703a" stroke="#17703a" stroke-width="0.55">3</text>
<path d="M851.50 818.54L863.50 811.70L863.50 825.38Z" fill="#fdca00"/>
<circle cx="871.50" cy="818.54" r="11.78" fill="#fff" stroke="#fdca00" stroke-width="2.45"/>
<text transform="translate(871.50 825.54) scale(0.880 1)" text-anchor="middle" font-size="19" font-weight="bold" fill="#fdca00" stroke="#fdca00" stroke-width="0.55">6</text>
<path d="M883.50 818.54L895.50 811.70L895.50 825.38Z" fill="#e9839e"/>
<circle cx="903.50" cy="818.54" r="11.78" fill="#fff" stroke="#e9839e" stroke-width="2.45"/>
<text transform="translate(903.50 825.54) scale(0.774 1)" text-anchor="middle" font-size="19" font-weight="bold" fill="#e9839e" stroke="#e9839e" stroke-width="0.55">20</text>
<text transform="translate(719.00 826.57) scale(0.8527 1)" font-size="27.2" fill="#c3d100" stroke="#c3d100" stroke-width="0.70">Los Díaz</text>
<path d="M682.70 916.40L674.09 902.40L691.31 902.40Z" fill="#c8d400"/>
<circle cx="682.70" cy="885.90" r="19.90" fill="#c8d400"/>
<text transform="translate(682.70 894.40) scale(0.890 1)" text-anchor="middle" font-size="22.5" fill="#fff" stroke="#fff" stroke-width="0.45">116</text>
<path d="M862.50 886.40L874.50 879.56L874.50 893.24Z" fill="#17703a"/>
<circle cx="882.50" cy="886.40" r="11.78" fill="#fff" stroke="#17703a" stroke-width="2.45"/>
<text transform="translate(882.50 893.40) scale(0.880 1)" text-anchor="middle" font-size="19" font-weight="bold" fill="#17703a" stroke="#17703a" stroke-width="0.55">3</text>
<text transform="translate(719.00 894.40) scale(0.8911 1)" font-size="27.2" fill="#c3d100" stroke="#c3d100" stroke-width="0.70">Mamí-Cauce</text>
<path d="M682.70 984.33L674.09 970.33L691.31 970.33Z" fill="#c8d400"/>
<circle cx="682.70" cy="953.83" r="19.90" fill="#c8d400"/>
<text transform="translate(682.70 962.33) scale(0.890 1)" text-anchor="middle" font-size="22.5" fill="#fff" stroke="#fff" stroke-width="0.45">126</text>
<path d="M865.75 954.26L877.75 947.42L877.75 961.10Z" fill="#17703a"/>
<circle cx="885.75" cy="954.26" r="11.78" fill="#fff" stroke="#17703a" stroke-width="2.45"/>
<text transform="translate(885.75 961.26) scale(0.880 1)" text-anchor="middle" font-size="19" font-weight="bold" fill="#17703a" stroke="#17703a" stroke-width="0.55">3</text>
<text transform="translate(719.00 962.23) scale(0.9050 1)" font-size="27.2" fill="#c3d100" stroke="#c3d100" stroke-width="0.70">Mamí-Iglesia</text>
<path d="M682.70 1052.26L674.09 1038.26L691.31 1038.26Z" fill="#c8d400"/>
<circle cx="682.70" cy="1021.76" r="19.90" fill="#c8d400"/>
<text transform="translate(682.70 1030.26) scale(0.890 1)" text-anchor="middle" font-size="22.5" fill="#fff" stroke="#fff" stroke-width="0.45">127</text>
<path d="M849.50 1022.12L861.50 1015.28L861.50 1028.96Z" fill="#17703a"/>
<circle cx="869.50" cy="1022.12" r="11.78" fill="#fff" stroke="#17703a" stroke-width="2.45"/>
<text transform="translate(869.50 1029.12) scale(0.880 1)" text-anchor="middle" font-size="19" font-weight="bold" fill="#17703a" stroke="#17703a" stroke-width="0.55">3</text>
<text transform="translate(719.00 1030.06) scale(1.0401 1)" font-size="27.2" fill="#c3d100" stroke="#c3d100" stroke-width="0.70">Mamí 140</text>
<path d="M682.70 1120.19L674.09 1106.19L691.31 1106.19Z" fill="#c8d400"/>
<circle cx="682.70" cy="1089.69" r="19.90" fill="#c8d400"/>
<text transform="translate(682.70 1098.19) scale(0.890 1)" text-anchor="middle" font-size="22.5" fill="#fff" stroke="#fff" stroke-width="0.45">156</text>
<path d="M776.25 1089.98L788.25 1083.14L788.25 1096.82Z" fill="#17703a"/>
<circle cx="796.25" cy="1089.98" r="11.78" fill="#fff" stroke="#17703a" stroke-width="2.45"/>
<text transform="translate(796.25 1096.98) scale(0.880 1)" text-anchor="middle" font-size="19" font-weight="bold" fill="#17703a" stroke="#17703a" stroke-width="0.55">3</text>
<text transform="translate(718.75 1097.89) scale(0.8760 1)" font-size="27.2" fill="#c3d100" stroke="#c3d100" stroke-width="0.70">Zeus</text>
<path d="M682.70 1188.12L674.09 1174.12L691.31 1174.12Z" fill="#c8d400"/>
<circle cx="682.70" cy="1157.62" r="19.90" fill="#c8d400"/>
<text transform="translate(682.70 1166.12) scale(0.890 1)" text-anchor="middle" font-size="22.5" fill="#fff" stroke="#fff" stroke-width="0.45">161</text>
<path d="M831.00 1157.84L843.00 1151.00L843.00 1164.68Z" fill="#17703a"/>
<circle cx="851.00" cy="1157.84" r="11.78" fill="#fff" stroke="#17703a" stroke-width="2.45"/>
<text transform="translate(851.00 1164.84) scale(0.880 1)" text-anchor="middle" font-size="19" font-weight="bold" fill="#17703a" stroke="#17703a" stroke-width="0.55">3</text>
<text transform="translate(718.50 1165.72) scale(0.8776 1)" font-size="27.2" fill="#c3d100" stroke="#c3d100" stroke-width="0.70">La Fuente</text>
<path d="M682.70 1256.05L674.09 1242.05L691.31 1242.05Z" fill="#c8d400"/>
<circle cx="682.70" cy="1225.55" r="19.90" fill="#c8d400"/>
<text transform="translate(682.70 1234.05) scale(0.890 1)" text-anchor="middle" font-size="22.5" fill="#fff" stroke="#fff" stroke-width="0.45">321</text>
<path d="M1039.30 1225.70L1051.30 1218.86L1051.30 1232.54Z" fill="#17703a"/>
<circle cx="1059.30" cy="1225.70" r="11.78" fill="#fff" stroke="#17703a" stroke-width="2.45"/>
<text transform="translate(1059.30 1232.70) scale(0.880 1)" text-anchor="middle" font-size="19" font-weight="bold" fill="#17703a" stroke="#17703a" stroke-width="0.55">3</text>
<text transform="translate(720.50 1233.55) scale(0.8737 1)" font-size="27.2" fill="#c3d100" stroke="#c3d100" stroke-width="0.70">Avenida Madre María Aznar 6</text>
<path d="M682.70 1323.98L674.09 1309.98L691.31 1309.98Z" fill="#c8d400"/>
<circle cx="682.70" cy="1293.48" r="19.90" fill="#c8d400"/>
<text transform="translate(682.70 1301.98) scale(0.890 1)" text-anchor="middle" font-size="22.5" fill="#fff" stroke="#fff" stroke-width="0.45">309</text>
<path d="M1066.00 1293.56L1078.00 1286.72L1078.00 1300.40Z" fill="#17703a"/>
<circle cx="1086.00" cy="1293.56" r="11.78" fill="#fff" stroke="#17703a" stroke-width="2.45"/>
<text transform="translate(1086.00 1300.56) scale(0.880 1)" text-anchor="middle" font-size="19" font-weight="bold" fill="#17703a" stroke="#17703a" stroke-width="0.55">3</text>
<text transform="translate(720.50 1301.38) scale(0.8765 1)" font-size="27.2" fill="#c3d100" stroke="#c3d100" stroke-width="0.70">Avenida Madre María Aznar 142</text>
<path d="M682.70 1391.91L674.09 1377.91L691.31 1377.91Z" fill="#c8d400"/>
<circle cx="682.70" cy="1361.41" r="19.90" fill="#c8d400"/>
<text transform="translate(682.70 1369.91) scale(0.890 1)" text-anchor="middle" font-size="22.5" fill="#fff" stroke="#fff" stroke-width="0.45">485</text>
<path d="M1022.70 1361.42L1034.70 1354.58L1034.70 1368.26Z" fill="#9aa519"/>
<circle cx="1042.70" cy="1361.42" r="11.78" fill="#fff" stroke="#9aa519" stroke-width="2.45"/>
<text transform="translate(1042.70 1368.42) scale(0.880 1)" text-anchor="middle" font-size="19" font-weight="bold" fill="#9aa519" stroke="#9aa519" stroke-width="0.55">5</text>
<text transform="translate(718.50 1369.21) scale(0.8741 1)" font-size="27.2" fill="#c3d100" stroke="#c3d100" stroke-width="0.70">Francisco Pérez Company 8</text>
<path d="M682.70 1459.84L674.09 1445.84L691.31 1445.84Z" fill="#c8d400"/>
<circle cx="682.70" cy="1429.34" r="19.90" fill="#c8d400"/>
<text transform="translate(682.70 1437.84) scale(0.890 1)" text-anchor="middle" font-size="22.5" fill="#fff" stroke="#fff" stroke-width="0.45">486</text>
<path d="M944.00 1429.28L956.00 1422.44L956.00 1436.12Z" fill="#9aa519"/>
<circle cx="964.00" cy="1429.28" r="11.78" fill="#fff" stroke="#9aa519" stroke-width="2.45"/>
<text transform="translate(964.00 1436.28) scale(0.880 1)" text-anchor="middle" font-size="19" font-weight="bold" fill="#9aa519" stroke="#9aa519" stroke-width="0.55">5</text>
<text transform="translate(718.50 1437.04) scale(0.9151 1)" font-size="27.2" fill="#c3d100" stroke="#c3d100" stroke-width="0.70">Residencial Altamar</text>
<path d="M671.10 167.50L650.60 153.15L650.60 181.85Z" fill="#c8d400"/>
<circle cx="628.60" cy="167.50" r="27.75" fill="#c8d400"/>
<text transform="translate(628.60 178.10) scale(0.900 1)" text-anchor="middle" font-size="30" fill="#fff" stroke="#fff" stroke-width="0.70">50</text>
<path d="M586.20 1491.25L606.70 1476.90L606.70 1505.60Z" fill="#c8d400"/>
<circle cx="628.70" cy="1491.25" r="27.50" fill="#c8d400"/>
<text transform="translate(628.70 1501.85) scale(0.900 1)" text-anchor="middle" font-size="30" fill="#fff" stroke="#fff" stroke-width="0.70">484</text>
<path d="M676.70 112.20L694.20 101.70L694.20 122.70Z" fill="#9aa519"/>
<circle cx="706.20" cy="112.20" r="18.00" fill="#fff" stroke="#9aa519" stroke-width="3.20"/>
<text transform="translate(706.20 121.90) scale(0.920 1)" text-anchor="middle" font-size="27" font-weight="bold" fill="#9aa519" stroke="#9aa519" stroke-width="0.60">5</text>
<path d="M725.40 112.40L742.90 101.90L742.90 122.90Z" fill="#fdca00"/>
<circle cx="754.90" cy="112.40" r="18.00" fill="#fff" stroke="#fdca00" stroke-width="3.20"/>
<text transform="translate(754.90 122.10) scale(0.920 1)" text-anchor="middle" font-size="27" font-weight="bold" fill="#fdca00" stroke="#fdca00" stroke-width="0.60">6</text>
<path d="M880.90 1559.30L898.40 1548.80L898.40 1569.80Z" fill="#9aa519"/>
<circle cx="910.40" cy="1559.30" r="18.00" fill="#fff" stroke="#9aa519" stroke-width="3.20"/>
<text transform="translate(910.40 1569.00) scale(0.920 1)" text-anchor="middle" font-size="27" font-weight="bold" fill="#9aa519" stroke="#9aa519" stroke-width="0.60">5</text>
<text transform="translate(539.00 124.40) scale(0.8631 1)" font-size="40" font-weight="bold" fill="#1d1d1b" stroke="#1d1d1b" stroke-width="0.70">La Salle</text>
<text transform="translate(332.50 1570.70) scale(0.8535 1)" font-size="41" font-weight="bold" fill="#1d1d1b" stroke="#1d1d1b" stroke-width="0.70">Centro Comercial Torrecárdenas</text>
</svg></body></html>
